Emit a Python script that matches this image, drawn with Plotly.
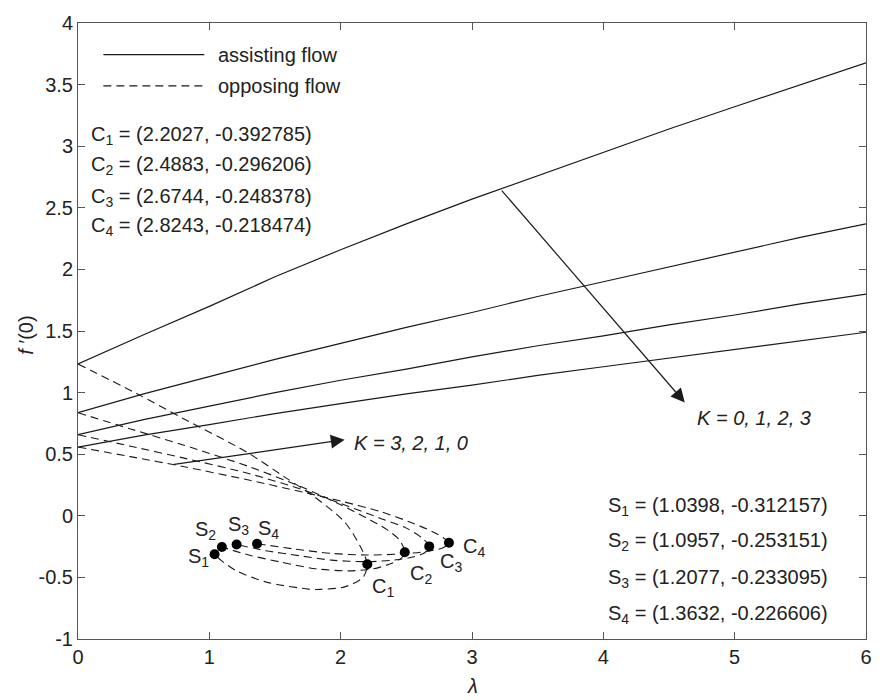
import plotly.graph_objects as go

# ---------------- data ----------------
lam_assist = [0, 0.5, 1, 1.5, 2, 2.5, 3, 3.5, 4, 4.5, 5, 5.5, 6]
assist_K0 = [1.232, 1.47, 1.70, 1.94, 2.16, 2.37, 2.57, 2.76, 2.95, 3.14, 3.32, 3.50, 3.677]
assist_K1 = [0.837, 0.99, 1.13, 1.27, 1.40, 1.53, 1.65, 1.78, 1.90, 2.02, 2.14, 2.26, 2.37]
assist_K2 = [0.658, 0.78, 0.89, 1.00, 1.10, 1.19, 1.29, 1.38, 1.46, 1.55, 1.63, 1.72, 1.80]
assist_K3 = [0.558, 0.655, 0.74, 0.83, 0.91, 0.99, 1.06, 1.14, 1.21, 1.28, 1.35, 1.42, 1.49]

# opposing flow: upper branch -> critical point C -> lower branch -> S
opp_K0_x = [0, 0.45, 0.8, 1.28, 1.58, 1.78, 2.03, 2.15, 2.2027, 2.17, 2.03, 1.85, 1.756, 1.43, 1.20, 1.088, 1.0398]
opp_K0_y = [1.232, 0.99, 0.79, 0.52, 0.31, 0.17, -0.05, -0.25, -0.392785, -0.50, -0.577, -0.597, -0.595, -0.537, -0.443, -0.36, -0.312157]
opp_K1_x = [0, 0.4, 0.8, 1.3, 1.7, 2.0, 2.2, 2.35, 2.45, 2.4883, 2.46, 2.39, 2.25, 2.06, 1.81, 1.55, 1.3, 1.0957]
opp_K1_y = [0.837, 0.705, 0.575, 0.40, 0.235, 0.09, -0.02, -0.11, -0.20, -0.296206, -0.345, -0.385, -0.43, -0.447, -0.43, -0.377, -0.318, -0.253151]
opp_K2_x = [0, 0.4, 0.8, 1.3, 1.7, 2.0, 2.3, 2.5, 2.62, 2.6744, 2.64, 2.55, 2.4, 2.2, 1.93, 1.68, 1.43, 1.2077]
opp_K2_y = [0.658, 0.565, 0.47, 0.343, 0.215, 0.10, -0.02, -0.10, -0.18, -0.248378, -0.30, -0.335, -0.36, -0.372, -0.36, -0.323, -0.283, -0.233095]
opp_K3_x = [0, 0.4, 0.8, 1.3, 1.7, 2.0, 2.3, 2.55, 2.72, 2.8243, 2.78, 2.65, 2.45, 2.2, 1.93, 1.65, 1.3632]
opp_K3_y = [0.558, 0.48, 0.40, 0.29, 0.195, 0.12, 0.035, -0.06, -0.14, -0.218474, -0.26, -0.29, -0.31, -0.318, -0.305, -0.27, -0.226606]

C_x = [2.2027, 2.4883, 2.6744, 2.8243]
C_y = [-0.392785, -0.296206, -0.248378, -0.218474]
S_x = [1.0398, 1.0957, 1.2077, 1.3632]
S_y = [-0.312157, -0.253151, -0.233095, -0.226606]

x_ticks = [0, 1, 2, 3, 4, 5, 6]
x_ticklabels = ["0", "1", "2", "3", "4", "5", "6"]
y_ticks = [-1, -0.5, 0, 0.5, 1, 1.5, 2, 2.5, 3, 3.5, 4]
y_ticklabels = ["-1", "-0.5", "0", "0.5", "1", "1.5", "2", "2.5", "3", "3.5", "4"]

C_text = ["C<sub>1</sub> = (2.2027, -0.392785)", "C<sub>2</sub> = (2.4883, -0.296206)",
          "C<sub>3</sub> = (2.6744, -0.248378)", "C<sub>4</sub> = (2.8243, -0.218474)"]
S_text = ["S<sub>1</sub> = (1.0398, -0.312157)", "S<sub>2</sub> = (1.0957, -0.253151)",
          "S<sub>3</sub> = (1.2077, -0.233095)", "S<sub>4</sub> = (1.3632, -0.226606)"]
point_labels = ["S<sub>1</sub>", "S<sub>2</sub>", "S<sub>3</sub>", "S<sub>4</sub>",
                "C<sub>1</sub>", "C<sub>2</sub>", "C<sub>3</sub>", "C<sub>4</sub>"]
point_label_x = [0.824, 0.874, 1.126, 1.353, 2.222, 2.512, 2.738, 2.915]
point_label_y = [-0.307, -0.083, -0.043, -0.075, -0.55, -0.443, -0.35, -0.225]

# ---------------- figure ----------------
FONT = "Arial, 'Liberation Sans', sans-serif"
LC = "#1a1a1a"
fig = go.Figure()

for ys in [assist_K0, assist_K1, assist_K2, assist_K3]:
    fig.add_trace(go.Scatter(x=lam_assist, y=ys, mode="lines",
                             line=dict(color=LC, width=1.2), showlegend=False, hoverinfo="skip"))

for xs, ys in [(opp_K0_x, opp_K0_y), (opp_K1_x, opp_K1_y), (opp_K2_x, opp_K2_y), (opp_K3_x, opp_K3_y)]:
    fig.add_trace(go.Scatter(x=xs, y=ys, mode="lines",
                             line=dict(color=LC, width=1.1, dash="8px,5px", shape="spline", smoothing=0.8),
                             showlegend=False, hoverinfo="skip"))

fig.add_trace(go.Scatter(x=C_x + S_x, y=C_y + S_y, mode="markers",
                         marker=dict(color="black", size=10), showlegend=False, hoverinfo="skip"))

ann = []
# legend (manual)
shapes = [
    dict(type="line", xref="paper", yref="paper", x0=0.0322, x1=0.1603, y0=0.9486, y1=0.9486,
         line=dict(color=LC, width=1.2)),
    dict(type="line", xref="paper", yref="paper", x0=0.0322, x1=0.1603, y0=0.898, y1=0.898,
         line=dict(color=LC, width=1.1, dash="8px,5px")),
]
ann.append(dict(xref="paper", yref="paper", x=0.175, y=0.9486, text="assisting flow",
                showarrow=False, xanchor="left", yanchor="middle"))
ann.append(dict(xref="paper", yref="paper", x=0.175, y=0.898, text="opposing flow",
                showarrow=False, xanchor="left", yanchor="middle"))

for i, t in enumerate(C_text):
    ann.append(dict(xref="paper", yref="y", x=0.0134, y=[3.12, 2.872, 2.62, 2.38][i], text=t,
                    showarrow=False, xanchor="left", yanchor="middle", yshift=-4))
for i, t in enumerate(S_text):
    ann.append(dict(xref="x", yref="y", x=4.02, y=[0.108, -0.18, -0.476, -0.772][i], text=t,
                    showarrow=False, xanchor="left", yanchor="middle", yshift=-4))
for t, px, py in zip(point_labels, point_label_x, point_label_y):
    ann.append(dict(xref="x", yref="y", x=px, y=py, text=t, showarrow=False,
                    xanchor="left", yanchor="middle", yshift=-4))

# arrows
ann.append(dict(xref="x", yref="y", axref="x", ayref="y", x=4.62, y=0.92, ax=3.217, ay=2.652,
                text="", showarrow=True, arrowhead=2, arrowsize=2.3, arrowwidth=1.2, arrowcolor=LC))
ann.append(dict(xref="x", yref="y", x=4.70, y=0.79, text="<i>K = 0, 1, 2, 3</i>",
                showarrow=False, xanchor="left", yanchor="middle"))
ann.append(dict(xref="x", yref="y", axref="x", ayref="y", x=2.03, y=0.618, ax=0.72, ay=0.415,
                text="", showarrow=True, arrowhead=2, arrowsize=2.3, arrowwidth=1.2, arrowcolor=LC))
ann.append(dict(xref="x", yref="y", x=2.09, y=0.59, text="<i>K = 3, 2, 1, 0</i>",
                showarrow=False, xanchor="left", yanchor="middle"))

# axis titles
ann.append(dict(xref="paper", yref="paper", x=0.5, y=-0.096, text="<i>λ</i>",
                showarrow=False, xanchor="center", yanchor="bottom", borderpad=0))
ann.append(dict(xref="paper", yref="paper", x=-0.066, y=0.494, text="<i>f</i> ′(0)",
                showarrow=False, xanchor="center", yanchor="middle", textangle=-90))

axis_common = dict(showline=True, linecolor="#555", linewidth=1, mirror="ticks",
                   ticks="inside", ticklen=7, tickcolor="#555", tickwidth=1,
                   showgrid=False, zeroline=False, tickfont=dict(size=20, color="#222", family=FONT))

fig.update_layout(
    width=884, height=700,
    margin=dict(l=78, r=12, t=14, b=61),
    paper_bgcolor="white", plot_bgcolor="white",
    font=dict(family=FONT, size=20, color="#222"),
    xaxis=dict(range=[0, 6], tickmode="array", tickvals=x_ticks, ticktext=x_ticklabels, **axis_common),
    yaxis=dict(range=[-1, 4], tickmode="array", tickvals=y_ticks, ticktext=y_ticklabels, **axis_common),
    annotations=ann, shapes=shapes, showlegend=False,
)

fig.write_html("out.html", config={"displayModeBar": False},
               post_script="document.body.style.margin='0';")
